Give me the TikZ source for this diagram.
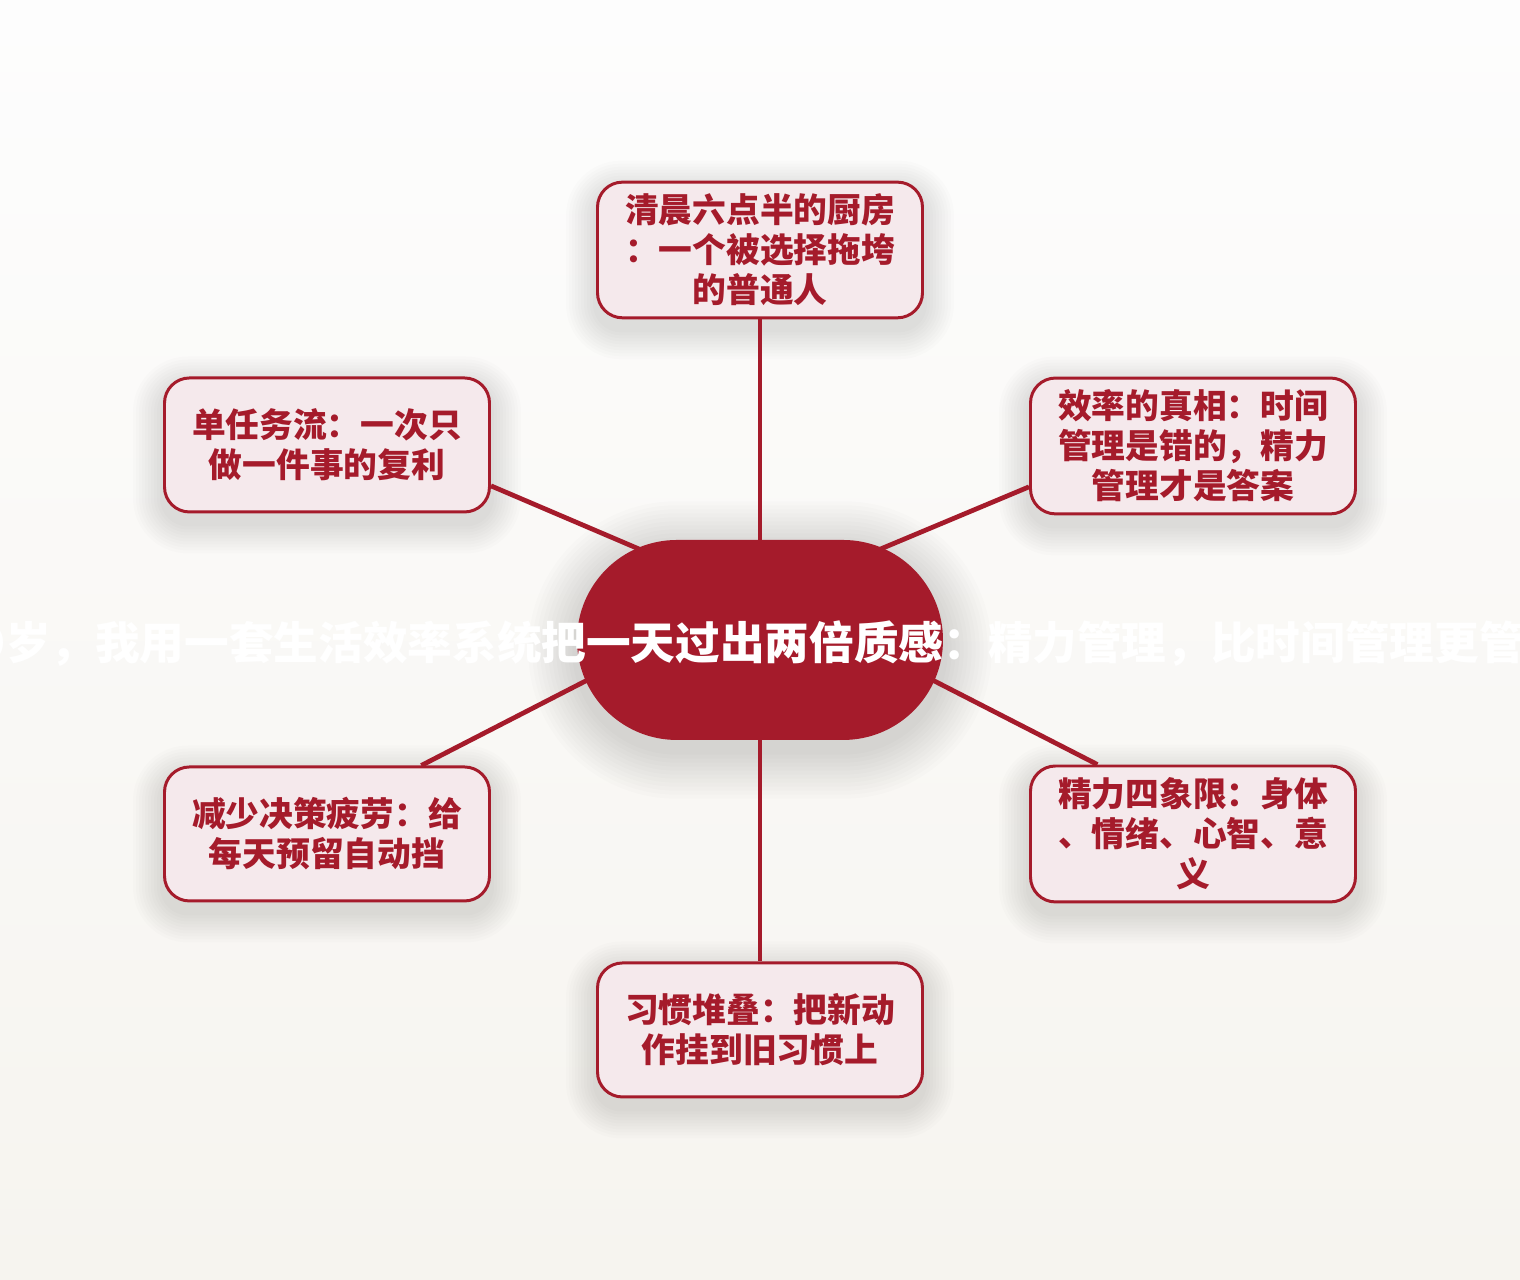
\documentclass[tikz,border=0pt]{standalone}
\usepackage{fontspec}
\newfontfamily\cjk{Noto Sans CJK SC}
\usetikzlibrary{calc}
\definecolor{brick}{RGB}{165,27,43}
\definecolor{blush}{RGB}{245,233,236}
\definecolor{paper}{RGB}{246,244,239}
\definecolor{sky}{RGB}{253,253,253}
\pgfdeclarelayer{bg}
\pgfdeclarelayer{lines}
\pgfsetlayers{bg,lines,main}
\begin{document}
\begin{tikzpicture}[
    leaf/.style={draw=brick, line width=0.85pt, fill=blush, rounded corners=2.5mm,
        minimum width=3.25cm, minimum height=1.34cm, align=center, text=brick,
        font=\cjk\bfseries\fontsize{9.6}{11.4}\selectfont},
    link/.style={brick, line width=1.35pt, shorten <=-4mm}
  ]
  \useasboundingbox (0,0) rectangle (15.2,12.8);

  % --- CENTRAL TOPIC ---
  \node[fill=brick, rounded corners=1cm, minimum width=3.66cm, minimum height=2cm, inner sep=0pt] (hub) at (7.6,6.4) {};
  \node[text=white, font=\cjk\bfseries\fontsize{12.7}{15}\selectfont] (title) at (7.6,6.36)
    {29岁，我用一套生活效率系统把一天过出两倍质感：精力管理，比时间管理更管用};

  % --- BRANCHES ---
  \node[leaf] (kitchen) at (7.60,10.30) {清晨六点半的厨房\\：一个被选择拖垮\\的普通人};
  \node[leaf] (truth) at (11.93,8.34) {效率的真相：时间\\管理是错的，精力\\管理才是答案};
  \node[leaf] (mono) at (3.27,8.35) {单任务流：一次只\\做一件事的复利};
  \node[leaf] (fatigue) at (3.27,4.46) {减少决策疲劳：给\\每天预留自动挡};
  \node[leaf] (quadrant) at (11.93,4.46) {精力四象限：身体\\、情绪、心智、意\\义};
  \node[leaf] (stacking) at (7.60,2.50) {习惯堆叠：把新动\\作挂到旧习惯上};

  % --- BACKGROUND AND SHADOWS ---
  \begin{pgfonlayer}{bg}
    \shade[top color=sky, bottom color=paper] (0,0) rectangle (15.2,12.8);
    \foreach \r in {0.04,0.08,...,0.52} {
      \pgfmathsetmacro\rad{1+\r}
      \fill[black, opacity=0.011, rounded corners=\rad cm]
        ($(hub.south west)+(-\r,-\r-0.1)$) rectangle ($(hub.north east)+(\r,\r-0.1)$);
    }
    \foreach \n in {kitchen,truth,mono,fatigue,quadrant,stacking} {
      \foreach \r in {0.03,0.06,...,0.3} {
        \pgfmathsetmacro\rad{0.25+\r}
        \fill[black, opacity=0.012, rounded corners=\rad cm]
          ($(\n.south west)+(-\r,-\r-0.1)$) rectangle ($(\n.north east)+(\r,\r-0.1)$);
      }
    }
  \end{pgfonlayer}

  % Connectors
  \begin{pgfonlayer}{lines}
    \draw[link] (hub.north) -- (kitchen.south);
    \draw[link] (hub.35) -- (truth.194);
    \draw[link] (hub.145) -- (mono.-14);
    \draw[link] (hub.194) -- (fatigue.36);
    \draw[link] (hub.-14) -- (quadrant.144);
    \draw[link] (hub.south) -- (stacking.north);
  \end{pgfonlayer}
\end{tikzpicture}
\end{document}
